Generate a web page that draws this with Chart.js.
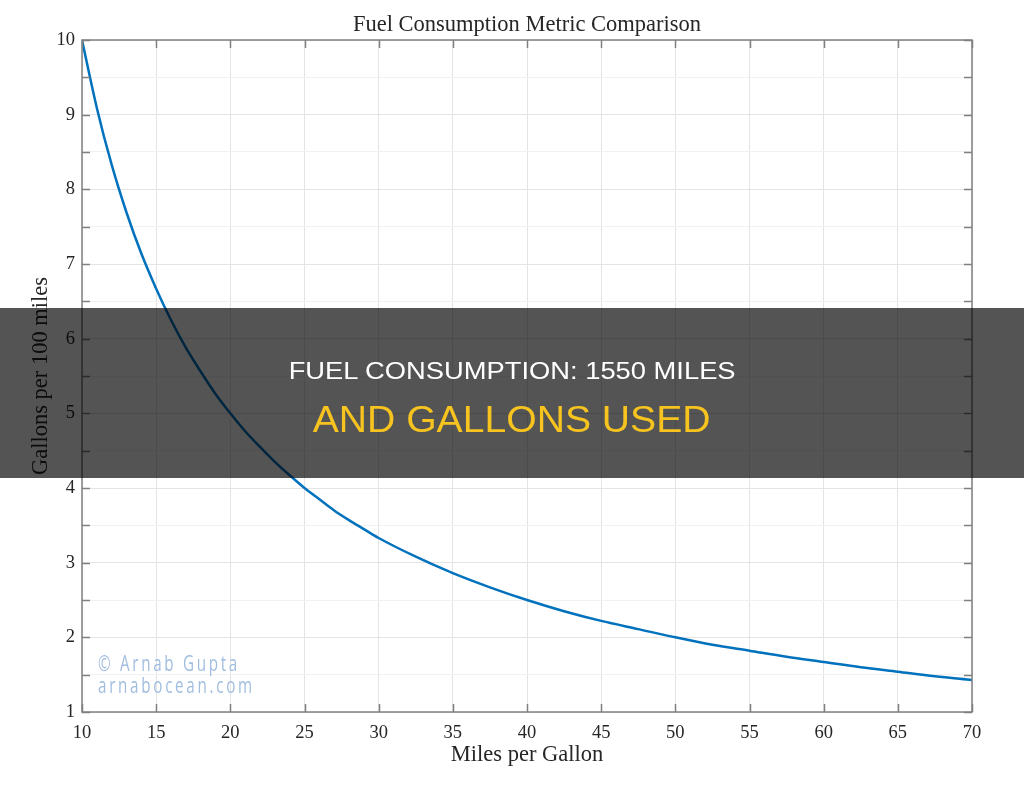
<!DOCTYPE html>
<html lang="en">
<head>
    <meta charset="UTF-8">
    <title>Fuel Consumption Metric Comparison</title>
    <script src="https://cdn.jsdelivr.net/npm/chart.js"></script>
    <style>
        html, body { margin: 0; padding: 0; background: #fff; }
        #wrap { position: relative; width: 1024px; height: 791px; overflow: hidden; }
        #banner { position: absolute; left: 0; top: 308px; width: 1024px; height: 170px; background: rgba(0, 0, 0, 0.67); }
        .bline { position: absolute; left: 0; width: 1024px; text-align: center; white-space: nowrap;
                 font-family: "Liberation Sans Narrow", "Liberation Sans", "Arial", sans-serif; }
        .bline span { display: inline-block; transform-origin: center; }
        #line1 { top: 50.5px; color: #ffffff; font-size: 24.6px; line-height: 24.6px; }
        #line2 { top: 92.8px; color: #f7c31f; font-size: 37.7px; line-height: 37.7px; }
        .mark { position: absolute; left: 98px; color: #a0bde0; font-family: "Open Sans", sans-serif; white-space: nowrap;
                font-size: 22.5px; line-height: 23px; letter-spacing: 4px; transform-origin: left center; }
        #mark1 { top: 651px; }
        #mark2 { top: 672.5px; }
    </style>
</head>
<body>
<div id="wrap">
    <canvas id="fuelChart" width="1024" height="791"></canvas>
    <div class="mark fit" id="mark1" data-w="142">© Arnab Gupta</div>
    <div class="mark fit" id="mark2" data-w="157">arnabocean.com</div>
    <div id="banner">
        <div class="bline" id="line1"><span class="fit" data-w="447">FUEL CONSUMPTION: 1550 MILES</span></div>
        <div class="bline" id="line2"><span class="fit" data-w="398">AND GALLONS USED</span></div>
    </div>
</div>
<script>
    // miles per gallon vs gallons per 100 miles
    const mpg = [10, 11, 12, 13, 14, 15, 16, 17, 18, 19, 20, 21, 22, 23, 24, 25, 26, 27, 28, 29, 30,
                 32.5, 35, 37.5, 40, 42.5, 45, 47.5, 50, 52.5, 55, 57.5, 60, 62.5, 65, 67.5, 70];
    const gallonsPer100 = [10.0, 9.09, 8.33, 7.69, 7.14, 6.67, 6.25, 5.88, 5.56, 5.26, 5.00, 4.76, 4.55, 4.35, 4.17, 4.00, 3.85, 3.70, 3.57, 3.45, 3.33,
                           3.08, 2.86, 2.67, 2.50, 2.35, 2.22, 2.11, 2.00, 1.90, 1.82, 1.74, 1.67, 1.60, 1.54, 1.48, 1.43];
    const xTicks = [10, 15, 20, 25, 30, 35, 40, 45, 50, 55, 60, 65, 70];
    const yTicks = [1, 2, 3, 4, 5, 6, 7, 8, 9, 10];
    const chartTitle = 'Fuel Consumption Metric Comparison';

    const serif = "'Liberation Serif', 'DejaVu Serif', serif";
    const textColor = '#262626';

    // MATLAB style box with inward ticks on all four sides, plus the title over the axes
    const boxPlugin = {
        id: 'matlabBox',
        afterDraw(chart) {
            const { ctx, chartArea: a, scales } = chart;
            const t = 8;
            ctx.save();
            ctx.strokeStyle = '#808080';
            ctx.lineWidth = 1.5;
            ctx.beginPath();
            scales.x.ticks.forEach(tk => {
                const px = Math.round(scales.x.getPixelForValue(tk.value)) + 0.5;
                ctx.moveTo(px, a.bottom); ctx.lineTo(px, a.bottom - t);
                ctx.moveTo(px, a.top); ctx.lineTo(px, a.top + t);
            });
            scales.y.ticks.forEach(tk => {
                const py = Math.round(scales.y.getPixelForValue(tk.value)) + 0.5;
                ctx.moveTo(a.left, py); ctx.lineTo(a.left + t, py);
                ctx.moveTo(a.right, py); ctx.lineTo(a.right - t, py);
            });
            ctx.stroke();
            ctx.strokeRect(a.left, a.top, a.right - a.left, a.bottom - a.top);

            ctx.fillStyle = textColor;
            ctx.font = '22.5px ' + serif;
            ctx.textAlign = 'center';
            ctx.textBaseline = 'alphabetic';
            ctx.fillText(chartTitle, (a.left + a.right) / 2, a.top - 9);
            ctx.restore();
        }
    };

    new Chart(document.getElementById('fuelChart').getContext('2d'), {
        type: 'line',
        data: {
            datasets: [{
                data: mpg.map((m, i) => ({ x: m, y: gallonsPer100[i] })),
                borderColor: '#0072BD',
                borderWidth: 2.5,
                pointRadius: 0,
                cubicInterpolationMode: 'monotone',
                fill: false
            }]
        },
        options: {
            responsive: false,
            animation: false,
            layout: { padding: { top: 40, right: 52, left: 0, bottom: 0 } },
            plugins: {
                legend: { display: false },
                tooltip: { enabled: false },
                title: { display: false }
            },
            scales: {
                x: {
                    type: 'linear',
                    min: xTicks[0],
                    max: xTicks[xTicks.length - 1],
                    afterBuildTicks: s => { s.ticks = xTicks.map(v => ({ value: v })); },
                    afterFit: s => { s.height = 79; },
                    grid: { color: '#e4e4e4', lineWidth: 1, drawTicks: false },
                    border: { display: false },
                    ticks: { color: textColor, padding: 10, font: { family: serif, size: 18.5 } },
                    title: {
                        display: true, text: 'Miles per Gallon', color: textColor,
                        font: { family: serif, size: 22.5, lineHeight: 1.2 },
                        padding: { top: 0, bottom: 22.5 }
                    }
                },
                y: {
                    min: 1,
                    max: 10,
                    afterBuildTicks: s => {
                        const list = [];
                        yTicks.forEach((v, i) => {
                            list.push({ value: v });
                            if (i < yTicks.length - 1) list.push({ value: v + 0.5 });
                        });
                        s.ticks = list;
                    },
                    afterFit: s => { s.width = 82; },
                    grid: {
                        drawTicks: false,
                        lineWidth: 1,
                        color: c => Number.isInteger(c.tick.value) ? '#e4e4e4' : '#f1f1f1'
                    },
                    border: { display: false },
                    ticks: {
                        color: textColor, padding: 7, font: { family: serif, size: 18.5 },
                        callback: v => Number.isInteger(v) ? v : ''
                    },
                    title: {
                        display: true, text: 'Gallons per 100 miles', color: textColor,
                        font: { family: serif, size: 22.5, lineHeight: 1.2 },
                        padding: { top: 27.5, bottom: 0 }
                    }
                }
            }
        },
        plugins: [boxPlugin]
    });

    // squeeze the overlay texts to the widths seen in the picture
    document.querySelectorAll('.fit').forEach(el => {
        const w = el.getBoundingClientRect().width;
        const target = +el.dataset.w;
        if (w > 0) el.style.transform = 'scaleX(' + (target / w).toFixed(3) + ')';
    });
</script>
</body>
</html>
